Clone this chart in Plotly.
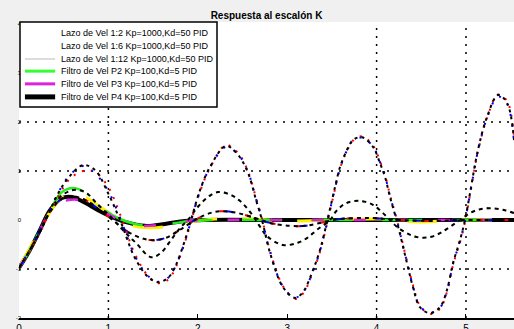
import plotly.graph_objects as go

# ---------------- data (time, response) ----------------
t_big = [0.000, 0.123, 0.235, 0.347, 0.459, 0.570, 0.716, 0.850, 0.996, 1.130, 1.298, 1.443, 1.555, 1.667,
         1.745, 1.857, 1.924, 2.025, 2.136, 2.315, 2.450, 2.562, 2.651, 2.718, 2.808, 2.953, 3.087, 3.177,
         3.289, 3.367, 3.445, 3.535, 3.591, 3.669, 3.736, 3.837, 3.960, 4.038, 4.094, 4.150, 4.228, 4.340,
         4.407, 4.485, 4.597, 4.709, 4.787, 4.855, 4.933, 4.989, 5.045, 5.134, 5.235, 5.358, 5.459, 5.537]
y_big_black = [-0.98, -0.61, -0.24, 0.20, 0.61, 0.90, 1.12, 1.02, 0.55, 0.00, -0.78, -1.16, -1.27, -1.18,
               -0.96, -0.41, 0.00, 0.61, 1.08, 1.51, 1.33, 0.96, 0.41, 0.00, -0.67, -1.37, -1.59, -1.47,
               -1.02, -0.61, -0.04, 0.67, 1.08, 1.43, 1.63, 1.69, 1.49, 1.16, 0.88, 0.47, -0.04, -0.88,
               -1.37, -1.78, -1.90, -1.78, -1.43, -0.88, -0.41, 0.00, 0.55, 1.43, 2.10, 2.55, 2.39, 1.63]
y_big_red = [-0.98, -0.62, -0.26, 0.17, 0.55, 0.84, 1.00, 0.98, 0.68, 0.12, -0.70, -1.14, -1.29, -1.22,
             -1.00, -0.45, -0.04, 0.58, 1.06, 1.53, 1.37, 0.99, 0.45, 0.03, -0.63, -1.35, -1.61, -1.50,
             -1.06, -0.65, -0.08, 0.63, 1.05, 1.41, 1.62, 1.71, 1.52, 1.20, 0.92, 0.51, 0.00, -0.84,
             -1.33, -1.75, -1.92, -1.81, -1.47, -0.92, -0.45, -0.04, 0.51, 1.40, 2.08, 2.56, 2.43, 1.70]
y_big_blue = [-0.98, -0.60, -0.22, 0.22, 0.62, 0.92, 1.10, 0.95, 0.60, 0.05, -0.74, -1.14, -1.26, -1.18,
              -0.97, -0.43, -0.02, 0.60, 1.07, 1.49, 1.34, 0.98, 0.43, 0.02, -0.65, -1.36, -1.58, -1.48,
              -1.04, -0.63, -0.06, 0.65, 1.06, 1.42, 1.62, 1.68, 1.50, 1.18, 0.90, 0.49, -0.02, -0.86,
              -1.35, -1.76, -1.89, -1.79, -1.45, -0.90, -0.43, -0.02, 0.53, 1.41, 2.08, 2.52, 2.37, 1.60]

t_mid = [0.000, 0.123, 0.235, 0.347, 0.459, 0.604, 0.738, 0.884, 1.029, 1.170, 1.309, 1.477, 1.588, 1.700,
         1.812, 1.890, 2.002, 2.114, 2.226, 2.371, 2.483, 2.595, 2.690, 2.774, 2.953, 3.110, 3.221, 3.333,
         3.479, 3.557, 3.669, 3.814, 3.960, 4.072, 4.150, 4.228, 4.340, 4.452, 4.597, 4.709, 4.821, 4.933,
         5.045, 5.157, 5.291, 5.436, 5.537]
y_mid = [-0.98, -0.61, -0.24, 0.18, 0.47, 0.61, 0.57, 0.31, 0.06, -0.22, -0.47, -0.76, -0.67, -0.41,
         -0.14, 0.00, 0.27, 0.47, 0.57, 0.51, 0.37, 0.14, -0.12, -0.33, -0.51, -0.47, -0.37, -0.20,
         0.00, 0.20, 0.35, 0.39, 0.31, 0.14, 0.00, -0.14, -0.27, -0.35, -0.35, -0.27, -0.14, 0.00,
         0.14, 0.22, 0.24, 0.20, 0.14]

t_small = [0.000, 0.123, 0.235, 0.347, 0.459, 0.570, 0.738, 0.906, 1.074, 1.242, 1.465, 1.633, 1.801, 1.969,
           2.136, 2.271, 2.450, 2.640, 2.808, 3.031, 3.199, 3.367, 3.591, 3.926, 4.262, 4.597, 5.000, 5.537]
y_small = [-0.98, -0.61, -0.20, 0.16, 0.41, 0.49, 0.41, 0.20, -0.04, -0.27, -0.41, -0.37, -0.20, 0.00,
           0.14, 0.18, 0.14, 0.04, -0.06, -0.12, -0.12, -0.06, 0.02, 0.04, 0.00, -0.02, 0.00, 0.00]

t_green = [0.000, 0.123, 0.235, 0.347, 0.481, 0.626, 0.794, 0.962, 1.130, 1.298, 1.465, 1.689, 1.913, 2.248,
           3.000, 4.000, 5.000, 5.537]
y_green = [-0.98, -0.61, -0.20, 0.20, 0.57, 0.65, 0.49, 0.20, 0.02, -0.08, -0.12, -0.08, -0.02, 0.00,
           0.00, 0.00, 0.00, 0.00]

t_mag = [0.000, 0.123, 0.235, 0.347, 0.481, 0.682, 0.850, 1.018, 1.186, 1.353, 1.577, 1.857, 2.136, 3.000,
         4.000, 5.000, 5.537]
y_mag = [-0.98, -0.61, -0.20, 0.16, 0.37, 0.41, 0.29, 0.10, -0.04, -0.12, -0.10, -0.02, 0.00, 0.00,
         0.00, 0.00, 0.00]

t_blk = [0.000, 0.123, 0.235, 0.347, 0.481, 0.593, 0.738, 0.884, 1.018, 1.186, 1.410, 1.633, 1.857, 2.080,
         3.000, 4.000, 5.000, 5.537]
y_blk = [-0.98, -0.61, -0.20, 0.20, 0.45, 0.47, 0.35, 0.20, 0.08, -0.04, -0.12, -0.08, -0.02, 0.00,
         0.00, 0.00, 0.00, 0.00]

t_yel = [0.000, 0.235, 0.403, 0.570, 0.738, 0.906, 1.074, 1.242, 1.465, 1.689, 1.913, 2.192, 2.584, 3.031,
         3.479, 4.038, 4.485, 4.933, 5.537]
y_yel = [-0.98, -0.20, 0.31, 0.57, 0.47, 0.27, 0.06, -0.10, -0.16, -0.12, -0.04, 0.02, 0.02, -0.02,
         0.00, 0.02, -0.04, 0.00, 0.00]

x_ticks = [0, 1, 2, 3, 4, 5]
x_tick_labels = ["0", "1", "2", "3", "4", "5"]
y_ticks = [-2, -1, 0, 1, 2, 3, 4]
y_tick_labels = ["-2", "-1", "0", "1", "2", "3", "4"]
x_grid = [1, 4, 5]
y_grid = [-1, 1, 2]

legend_labels = [
    "Lazo de Vel 1:2 Kp=1000,Kd=50 PID",
    "Lazo de Vel 1:6 Kp=1000,Kd=50 PID",
    "Lazo de Vel 1:12 Kp=1000,Kd=50 PID",
    "Filtro de Vel P2 Kp=100,Kd=5 PID",
    "Filtro de Vel P3 Kp=100,Kd=5 PID",
    "Filtro de Vel P4 Kp=100,Kd=5 PID",
]
legend_colors = ["rgba(0,0,0,0)", "rgba(0,0,0,0)", "#dcdcdc", "#33ff33", "#dd22dd", "#000000"]
legend_widths = [2, 2, 2, 3, 3, 5]

X0, X1 = 0.0, 5.537
Y0, Y1 = -2.0, 4.04

fig = go.Figure()

def add(t, y, color, width, dash):
    fig.add_trace(go.Scatter(x=t, y=y, mode="lines", showlegend=False, hoverinfo="skip",
                             line=dict(color=color, width=width, dash=dash, shape="spline", smoothing=1.0)))

# near-zero damped responses
add(t_blk, y_blk, "#000000", 4, "solid")
add(t_yel, y_yel, "#ffee00", 3, "30px,25px")
add(t_green, y_green, "#22ee22", 2.5, "40px,30px")
add(t_mag, y_mag, "#dd22dd", 2.5, "12px,30px")
# small oscillation
add(t_small, y_small, "#ff0000", 2, "6px,20px")
add(t_small, y_small, "#0000ff", 2, "8px,30px")
add(t_small, y_small, "#000000", 2, "4px,4px")
# medium oscillation
add(t_mid, y_mid, "#22dd22", 2, "2px,14px")
add(t_mid, y_mid, "#000000", 2, "4px,4px")
# large oscillations
add(t_big, y_big_red, "#ff0000", 2, "2px,7px")
add(t_big, y_big_blue, "#0000ff", 2, "2px,9px")
add(t_big, y_big_black, "#000000", 2, "3px,4px")

shapes = []
for gx in x_grid:
    shapes.append(dict(type="line", xref="x", yref="y", x0=gx, x1=gx, y0=Y0, y1=Y1, layer="below",
                       line=dict(color="#000000", width=1.5, dash="2px,6px")))
for gy in y_grid:
    shapes.append(dict(type="line", xref="x", yref="y", x0=X0, x1=X1, y0=gy, y1=gy, layer="below",
                       line=dict(color="#000000", width=1.5, dash="2px,6px")))

# legend box (drawn manually to get the compact row spacing)
LX0, LX1, LY0, LY1 = 0.002, 0.40, 0.713, 1.0
shapes.append(dict(type="rect", xref="paper", yref="paper", x0=LX0, x1=LX1, y0=LY0, y1=LY1,
                   fillcolor="white", line=dict(color="black", width=1.5), layer="above"))
rows = [0.963, 0.919, 0.875, 0.834, 0.791, 0.747]
annotations = []
for lbl, col, w, ry in zip(legend_labels, legend_colors, legend_widths, rows):
    shapes.append(dict(type="line", xref="paper", yref="paper", x0=0.012, x1=0.073, y0=ry, y1=ry,
                       line=dict(color=col, width=w), layer="above"))
    annotations.append(dict(xref="paper", yref="paper", x=0.081, y=ry, xanchor="left", yanchor="middle",
                            text=lbl, showarrow=False,
                            font=dict(family="Liberation Sans, Arial", size=9, color="black")))

fig.update_layout(
    width=514, height=329,
    margin=dict(l=19, r=0, t=22, b=11, autoexpand=False),
    paper_bgcolor="#f0f0f0", plot_bgcolor="#ffffff",
    title=dict(text="<b>Respuesta al escalón K</b>", x=0.5, xref="paper", xanchor="center", y=0.954,
               yanchor="middle", yref="container",
               font=dict(family="Liberation Sans, Arial", size=10, color="black")),
    xaxis=dict(range=[X0, X1], tickvals=x_ticks, ticktext=x_tick_labels, showgrid=False, zeroline=False,
               showline=True, linecolor="black", linewidth=2, ticks="inside", ticklen=4, tickcolor="black",
               tickfont=dict(family="Liberation Sans, Arial", size=10, color="black"), automargin=False),
    yaxis=dict(range=[Y0, Y1], tickvals=y_ticks, ticktext=y_tick_labels, showgrid=False, zeroline=False,
               showline=False, ticks="", ticklen=0, ticklabelstandoff=-3,
               tickfont=dict(family="Liberation Sans, Arial", size=6, color="black"), automargin=False),
    shapes=shapes, annotations=annotations,
)

fig.write_html("out.html")
